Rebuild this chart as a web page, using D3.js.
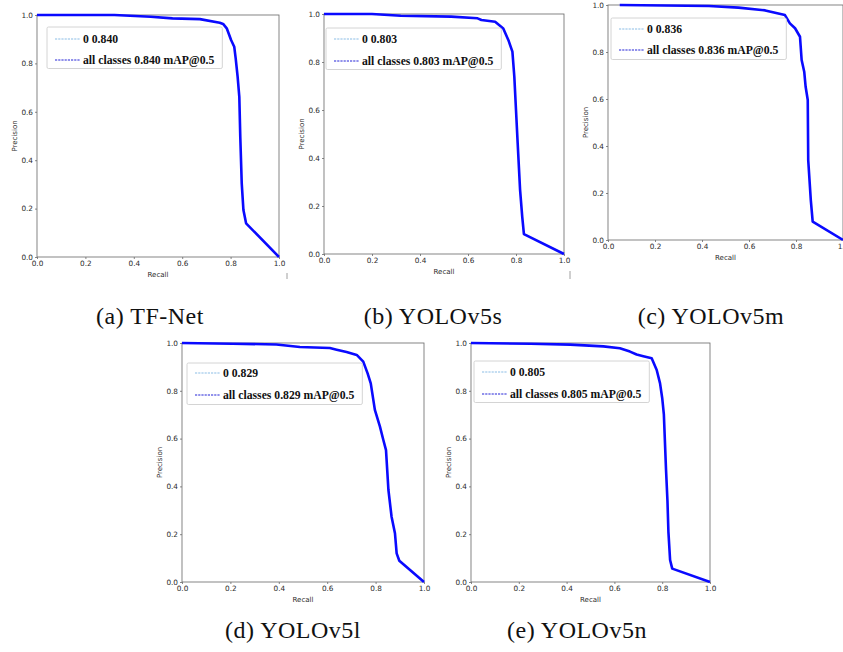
<!DOCTYPE html>
<html>
<head>
<meta charset="utf-8">
<script src="https://cdn.jsdelivr.net/npm/d3@7"></script>
<style>
  html, body { margin: 0; padding: 0; background: #fff; }
  svg { display: block; }
  text { -webkit-font-smoothing: antialiased; }
</style>
</head>
<body>
<svg id="chart" width="843" height="652"></svg>
<script>
// ---------- data ----------
const tickValues = [0.0, 0.2, 0.4, 0.6, 0.8, 1.0];
const panelIds = ["a", "b", "c", "d", "e"];
const modelNames = ["TF-Net", "YOLOv5s", "YOLOv5m", "YOLOv5l", "YOLOv5n"];
const mapValues = ["0.840", "0.803", "0.836", "0.829", "0.805"];

const recallA    = [0, 0.32, 0.47, 0.56, 0.673, 0.755, 0.769, 0.784, 0.802, 0.815, 0.821, 0.829, 0.836, 0.840, 0.846, 0.853, 0.864, 1.0];
const precisionA = [1.0, 1.0, 0.993, 0.986, 0.983, 0.968, 0.963, 0.945, 0.897, 0.869, 0.821, 0.745, 0.662, 0.497, 0.304, 0.194, 0.139, 0.0];

const recallB    = [0, 0.20, 0.32, 0.53, 0.64, 0.656, 0.713, 0.747, 0.768, 0.785, 0.793, 0.800, 0.807, 0.817, 0.826, 0.833, 1.0];
const precisionB = [1.0, 1.0, 0.993, 0.989, 0.982, 0.975, 0.968, 0.940, 0.892, 0.843, 0.739, 0.600, 0.461, 0.267, 0.155, 0.083, 0.0];

const recallC    = [0.05, 0.43, 0.555, 0.669, 0.753, 0.774, 0.796, 0.817, 0.824, 0.835, 0.841, 0.850, 0.852, 0.863, 0.871, 1.0];
const precisionC = [1.0, 0.996, 0.989, 0.977, 0.957, 0.922, 0.901, 0.865, 0.766, 0.716, 0.652, 0.596, 0.340, 0.170, 0.078, 0.0];

const recallD    = [0, 0.21, 0.39, 0.487, 0.611, 0.639, 0.68, 0.722, 0.749, 0.767, 0.780, 0.797, 0.818, 0.832, 0.843, 0.853, 0.866, 0.880, 0.887, 0.898, 1.0];
const precisionD = [1.0, 0.997, 0.994, 0.983, 0.979, 0.972, 0.962, 0.950, 0.922, 0.873, 0.831, 0.720, 0.650, 0.594, 0.552, 0.385, 0.273, 0.204, 0.120, 0.089, 0.0];

const recallE    = [0, 0.25, 0.415, 0.554, 0.623, 0.665, 0.693, 0.721, 0.756, 0.777, 0.791, 0.800, 0.807, 0.816, 0.822, 0.826, 0.833, 0.842, 1.0];
const precisionE = [1.0, 0.997, 0.993, 0.986, 0.978, 0.964, 0.952, 0.945, 0.936, 0.887, 0.831, 0.77, 0.70, 0.47, 0.34, 0.21, 0.092, 0.056, 0.0];

const recalls = [recallA, recallB, recallC, recallD, recallE];
const precisions = [precisionA, precisionB, precisionC, precisionD, precisionE];

// ---------- layout ----------
const layout = [
  { x0: 37,  x1: 279, y0: 15,  y1: 257, lx: 47,  ly: 27,  r1: 12, r2: 33, cx: 150, cy: 324 },
  { x0: 324, x1: 564, y0: 14,  y1: 254, lx: 326, ly: 28,  r1: 11, r2: 33, cx: 433, cy: 324 },
  { x0: 608, x1: 843, y0: 5,   y1: 240, lx: 611, ly: 18,  r1: 11, r2: 32, cx: 711, cy: 324 },
  { x0: 182, x1: 424, y0: 343, y1: 582, lx: 187, ly: 363, r1: 10, r2: 32, cx: 293, cy: 638 },
  { x0: 471, x1: 710, y0: 343, y1: 582, lx: 474, ly: 361, r1: 11, r2: 33, cx: 577, cy: 638 }
];

const svg = d3.select("#chart");
const fmt = d3.format(".1f");

panelIds.forEach((id, i) => {
  const L = layout[i];
  const x = d3.scaleLinear().domain([0, 1]).range([L.x0, L.x1]);
  const y = d3.scaleLinear().domain([0, 1]).range([L.y1, L.y0]);
  const g = svg.append("g").attr("class", "panel-" + id);

  // axes
  const xAxis = g.append("g").attr("transform", `translate(0,${L.y1})`)
    .call(d3.axisBottom(x).tickValues(tickValues).tickFormat(fmt).tickSize(2).tickPadding(2));
  const yAxis = g.append("g").attr("transform", `translate(${L.x0},0)`)
    .call(d3.axisLeft(y).tickValues(tickValues).tickFormat(fmt).tickSize(2).tickPadding(2));
  [xAxis, yAxis].forEach(a => {
    a.select(".domain").remove();
    a.selectAll("line").attr("stroke", "#555").attr("stroke-width", 0.7);
    a.selectAll("text").attr("font-family", "DejaVu Sans").attr("font-size", 7.3).attr("fill", "#2a2a2a");
  });

  // frame
  g.append("rect")
    .attr("x", L.x0).attr("y", L.y0)
    .attr("width", L.x1 - L.x0).attr("height", L.y1 - L.y0)
    .attr("fill", "none").attr("stroke", "#666").attr("stroke-width", 0.8);

  // curve
  const pts = recalls[i].map((r, k) => [r, precisions[i][k]]);
  const line = d3.line().x(d => x(d[0])).y(d => y(d[1]));
  g.append("path").datum(pts).attr("d", line)
    .attr("fill", "none").attr("stroke", "#0a0aff").attr("stroke-width", 2.6)
    .attr("stroke-linejoin", "round");

  // axis labels
  g.append("text")
    .attr("x", (L.x0 + L.x1) / 2).attr("y", L.y1 + 19.5)
    .attr("text-anchor", "middle")
    .attr("font-family", "DejaVu Sans").attr("font-size", 7).attr("fill", "#2a2a2a")
    .text("Recall");
  g.append("text")
    .attr("transform", `translate(${L.x0 - 20},${(L.y0 + L.y1) / 2}) rotate(-90)`)
    .attr("text-anchor", "middle")
    .attr("font-family", "DejaVu Sans").attr("font-size", 7).attr("fill", "#2a2a2a")
    .text("Precision");

  // legend
  const lg = g.append("g");
  const box = lg.append("rect")
    .attr("x", L.lx).attr("y", L.ly).attr("height", 41.5)
    .attr("rx", 1.5)
    .attr("fill", "#fff").attr("stroke", "#cfcfcf").attr("stroke-width", 0.9);
  const entries = [
    { label: "0 " + mapValues[i], color: "#8cbde6", row: L.r1 },
    { label: "all classes " + mapValues[i] + " mAP@0.5", color: "#2424d8", row: L.r2 }
  ];
  let maxW = 0;
  entries.forEach(e => {
    lg.append("line")
      .attr("x1", L.lx + 8).attr("x2", L.lx + 33)
      .attr("y1", L.ly + e.row).attr("y2", L.ly + e.row)
      .attr("stroke", e.color).attr("stroke-width", 1.1)
      .attr("stroke-dasharray", "2.2,1");
    const t = lg.append("text")
      .attr("x", L.lx + 36).attr("y", L.ly + e.row + 4)
      .attr("font-family", "Liberation Serif").attr("font-weight", "bold")
      .attr("font-size", 11.7).attr("fill", "#111")
      .text(e.label);
    maxW = Math.max(maxW, t.node().getComputedTextLength());
  });
  box.attr("width", 36 + maxW + 8);

  // caption
  svg.append("text")
    .attr("x", L.cx).attr("y", L.cy)
    .attr("text-anchor", "middle")
    .attr("font-family", "Liberation Serif").attr("font-size", 24)
    .attr("letter-spacing", 0.5).attr("fill", "#111")
    .text(`(${id}) ${modelNames[i]}`);
});

// small stray marks present in the source image
[[287, 273, 279], [570, 271, 279]].forEach(m => {
  svg.append("line").attr("x1", m[0]).attr("x2", m[0]).attr("y1", m[1]).attr("y2", m[2])
    .attr("stroke", "#888").attr("stroke-width", 0.8);
});
</script>
</body>
</html>
